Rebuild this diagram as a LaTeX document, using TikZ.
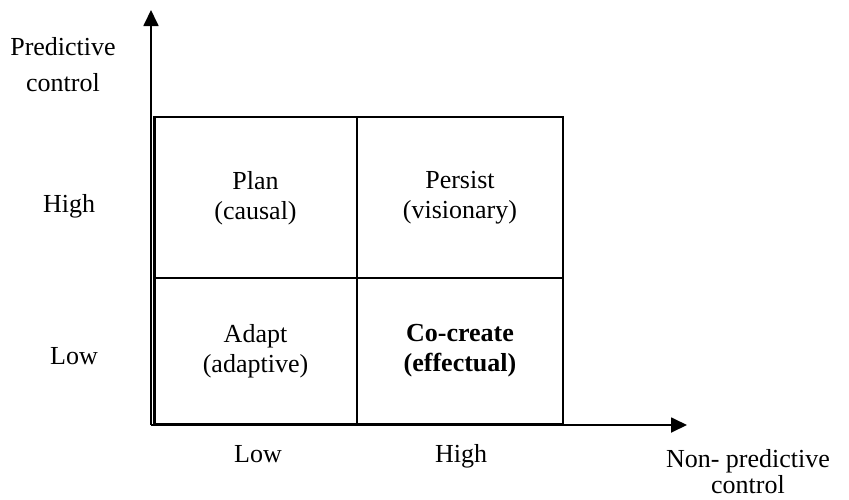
\documentclass[tikz,border=0pt]{standalone}
\usepackage{fontspec}
\setmainfont{Liberation Serif}
\usetikzlibrary{arrows.meta}
\begin{document}
\begin{tikzpicture}[x=1pt,y=-1pt,
  lbl/.style={inner sep=0pt,align=center,font=\fontsize{26}{30}\selectfont},
  axisline/.style={line width=1.8pt,-{Triangle[length=16pt,width=15pt]}},
  gridline/.style={line width=2.5pt}]
\useasboundingbox (0,0) rectangle (849,499);
% axes
\coordinate (O) at (151,425);
\coordinate (ytip) at (151,10);
\coordinate (xtip) at (687,425);
\draw[axisline] (O) -- (ytip);
\draw[axisline] (O) -- (xtip);
% grid
\coordinate (bl) at (154.5,424);
\coordinate (tr) at (563,117);
\coordinate (mt) at (357,117);
\coordinate (mb) at (357,424);
\coordinate (ml) at (154.5,278);
\coordinate (mr) at (563,278);
\draw[gridline] (bl) rectangle (tr);
\draw[gridline] (mt) -- (mb);
\draw[gridline] (ml) -- (mr);
% cell texts
\node[lbl] (plan) at (255.5,198) {Plan\\(causal)};
\node[lbl] (persist) at (460,198) {Persist\\(visionary)};
\node[lbl] (adapt) at (255.5,351) {Adapt\\(adaptive)};
\node[lbl,font=\fontsize{26}{30}\selectfont\bfseries] (cocreate) at (460,351) {Co-create\\(effectual)};
% axis labels
\node[lbl] (ylabel) at (63,65) {Predictive\\[6pt]control};
\node[lbl,anchor=base] (yhigh) at (69,212) {High};
\node[lbl,anchor=base] (ylow) at (74,364) {Low};
\node[lbl,anchor=base] (xlow) at (258,462) {Low};
\node[lbl,anchor=base] (xhigh) at (461,462) {High};
\node[lbl] (xlabel) at (748,472) {Non- predictive\\[-4pt]control};
\end{tikzpicture}
\end{document}
